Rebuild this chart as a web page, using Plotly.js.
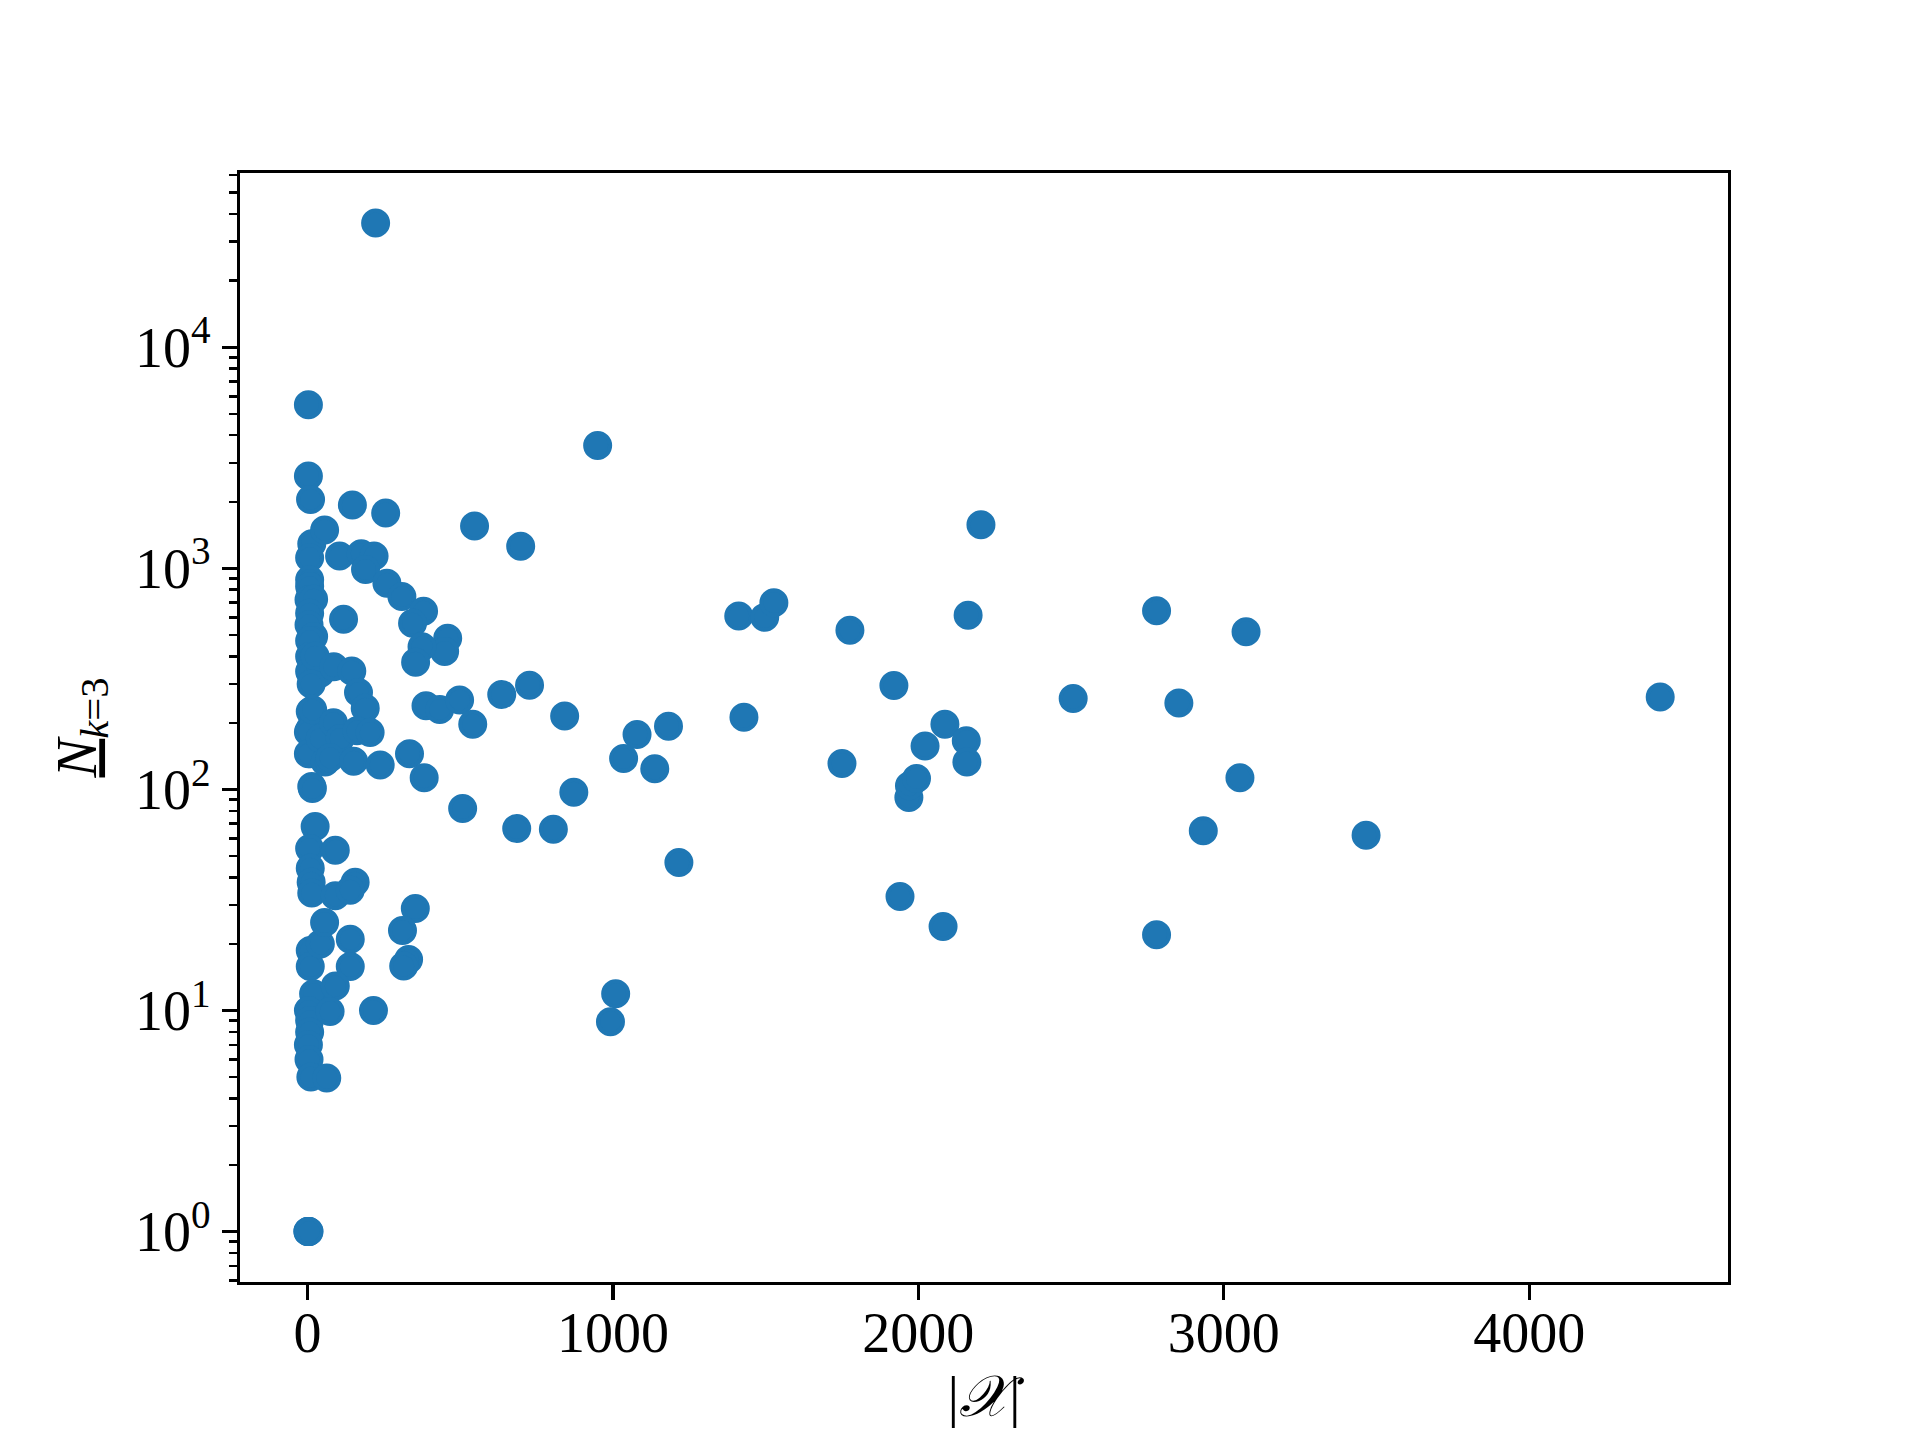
<!DOCTYPE html>
<html>
<head>
<meta charset="utf-8">
<script src="https://cdn.plot.ly/plotly-3.0.1.min.js"></script>
<style>html,body{margin:0;padding:0;background:#fff;}</style>
</head>
<body>
<div id="chart" style="width:1920px;height:1440px;"></div>
<script>
// |X| values (x) and N_{k=3} values (y)
const setSize = [
  3, 3, 10, 14, 7, 7, 7, 5, 20, 7, 5, 20, 7, 7, 7, 14, 9, 9, 3, 9, 3, 14, 16, 25, 7, 9, 12, 14, 9, 9, 20, 3, 7, 7, 3, 5, 11, 1, 2, 3, 4, 5,
  17, 42, 42, 42, 56, 58, 25, 12,
  56, 105, 176, 218, 190, 260, 147, 256, 118, 86, 145, 167, 189, 85, 107, 162, 205, 74, 151, 238, 91, 91, 156, 140, 140, 140, 91, 74, 216, 63,
  223, 309, 380, 344, 459, 449, 375, 354, 388, 433, 498, 541, 636, 727, 842, 547, 698, 950, 334, 382, 508, 685, 805, 872, 353, 311, 331, 315, 1009, 992,
  1079, 1035, 1137, 1182, 1216, 1412, 1497, 1527, 1429, 1750, 1776, 1920, 1940, 1969, 1971, 1994, 2022, 2081, 2087, 2157, 2159, 2163, 2205, 2507,
  2780, 2780, 2853, 2933, 3053, 3073, 3466, 4429
];
const nK3 = [
  5490, 2617, 2050, 1291, 1116, 887, 827, 720, 725, 627, 555, 491, 470, 399, 341, 226, 225, 188, 182, 145, 145, 103, 101, 68, 54, 44, 38, 34, 18.7, 15.8, 11.9, 10, 9, 8, 7, 6, 5, 1, 1, 1, 1, 1,
  229, 335, 170, 20, 25, 133, 400, 300,
  1490, 1136, 1164, 1136, 988, 857, 1933, 1778, 589, 359, 343, 274, 233, 200, 170, 184, 181, 139, 134, 129, 53, 33, 38, 35, 21, 15.8, 12.9, 9.9, 10, 4.95,
  36500, 745, 640, 565, 483, 420, 442, 376, 239, 230, 254, 197, 269, 296, 215, 1553, 1259, 3590, 145, 113, 82, 66.5, 66, 97, 28.9, 23, 17, 15.9, 11.9, 8.9,
  177, 138, 124, 193, 46.7, 608, 600, 699, 212, 131, 524, 295, 32.8, 92, 104, 112, 157, 24, 197, 166, 133, 614, 1573, 258,
  642, 22, 246, 65, 113, 516, 62, 262
];
const xTickVals = [0, 1000, 2000, 3000, 4000];
const xTickText = ['0', '1000', '2000', '3000', '4000'];
const yTickVals = [1, 10, 100, 1000, 10000];
const yTickText = ['10<sup>0</sup>', '10<sup>1</sup>', '10<sup>2</sup>', '10<sup>3</sup>', '10<sup>4</sup>'];

const FONT = '"Liberation Serif", "DejaVu Serif", serif';
const trace = {
  x: setSize, y: nK3, type: 'scatter', mode: 'markers',
  marker: {color: '#1f77b4', size: 25, line: {color: '#1f77b4', width: 4}},
  hoverinfo: 'x+y'
};
const layout = {
  width: 1920, height: 1440,
  margin: {l: 240, r: 192, t: 173, b: 158, pad: 0},
  paper_bgcolor: '#fff', plot_bgcolor: '#fff',
  showlegend: false,
  font: {family: FONT, size: 56, color: '#000'},
  xaxis: {
    range: [-221, 4651], tickmode: 'array', tickvals: xTickVals, ticktext: xTickText,
    ticks: 'outside', ticklen: 15, tickwidth: 3.3, tickcolor: '#000',
    ticklabelstandoff: -16,
    showline: true, linecolor: '#000', linewidth: 3.3, mirror: true,
    showgrid: false, zeroline: false, automargin: false,
    tickfont: {family: FONT, size: 56},
    title: {text: '|<i>𝒳</i>|', font: {family: FONT, size: 58}, standoff: 14}
  },
  yaxis: {
    type: 'log', range: [-0.228, 4.788], tickmode: 'array', tickvals: yTickVals, ticktext: yTickText,
    ticks: 'outside', ticklen: 15, tickwidth: 3.3, tickcolor: '#000',
    minor: {dtick: 'D1', ticks: 'outside', ticklen: 8, tickwidth: 2.5, tickcolor: '#000', showgrid: false},
    showline: true, linecolor: '#000', linewidth: 3.3, mirror: true,
    showgrid: false, zeroline: false, automargin: false,
    tickfont: {family: FONT, size: 56},
    title: {text: '<u><i>N</i></u><sub><i>k</i>=3</sub>', font: {family: FONT, size: 58}, standoff: 20}
  }
};
Plotly.newPlot('chart', [trace], layout, {staticPlot: true, displayModeBar: false});
</script>
</body>
</html>
